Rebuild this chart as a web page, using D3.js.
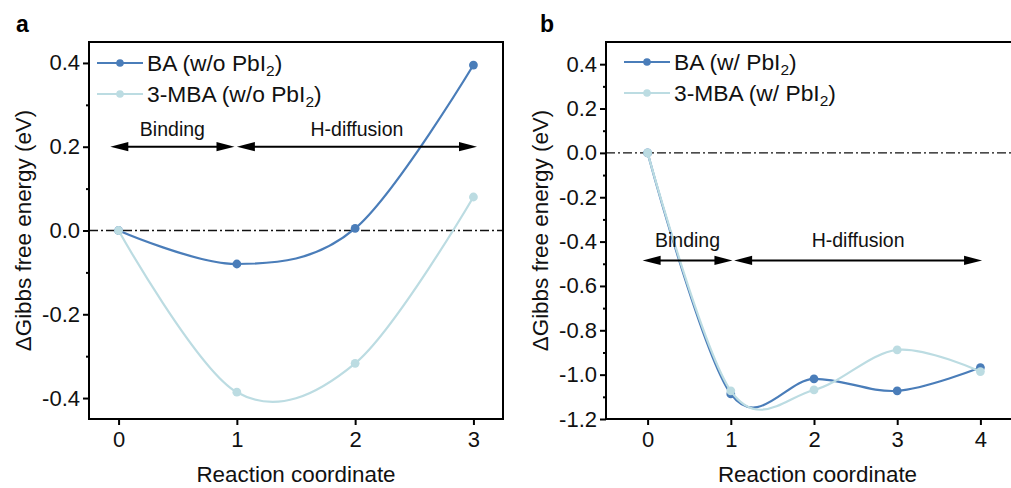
<!DOCTYPE html>
<html>
<head>
<meta charset="utf-8">
<script src="https://cdn.jsdelivr.net/npm/d3@7/dist/d3.min.js"></script>
<style>
  html, body { margin: 0; padding: 0; background: #fff; }
  svg { display: block; font-family: "Liberation Sans", Arial, Helvetica, sans-serif; }
</style>
</head>
<body>
<svg id="fig" width="1011" height="488"></svg>
<script>
// ---- data ----
// panel a: without PbI2
const coordsA = [0, 1, 2, 3];
const baNoPbI2 = [0.0, -0.08, 0.005, 0.395];
const mbaNoPbI2 = [0.0, -0.386, -0.317, 0.08];
const yTicksA = [-0.4, -0.2, 0.0, 0.2, 0.4];
const yMinorA = [-0.3, -0.1, 0.1, 0.3];

// panel b: with PbI2
const coordsB = [0, 1, 2, 3, 4];
const baWithPbI2 = [0.0, -1.087, -1.019, -1.073, -0.968];
const mbaWithPbI2 = [0.0, -1.073, -1.069, -0.888, -0.986];
const yTicksB = [-1.2, -1.0, -0.8, -0.6, -0.4, -0.2, 0.0, 0.2, 0.4];
const yMinorB = [-1.1, -0.9, -0.7, -0.5, -0.3, -0.1, 0.1, 0.3];

// legend names: [prefix, subscript, suffix]
const legendA = [["BA (w/o PbI", "2", ")"], ["3-MBA (w/o PbI", "2", ")"]];
const legendB = [["BA (w/ PbI", "2", ")"], ["3-MBA (w/ PbI", "2", ")"]];

// stage annotations: [label, from, to] in reaction-coordinate units
const stagesA = [["Binding", -0.07, 0.98], ["H-diffusion", 1.0, 3.03]];
const stagesB = [["Binding", -0.06, 1.02], ["H-diffusion", 1.04, 4.02]];

// ---- styling ----
const colBA = "#4a7db9";
const colMBA = "#bcdce2";
const fontTick = 22;
const fontTitle = 22.4;
const fontLegend = 22.8;
const fontNote = 19.5;

const fmt = d3.formatLocale({decimal: ".", thousands: ",", grouping: [3], currency: ["", ""], minus: "-"}).format(".1f");

const svg = d3.select("#fig");

function panel(opt) {
  const g = svg.append("g");
  const x = d3.scaleLinear().domain(opt.xDomain).range(opt.xRange);
  const y = d3.scaleLinear().domain(opt.yDomain).range([419, 42]);
  const [x0, x1] = opt.xRange;

  // zero reference line
  g.append("line")
    .attr("x1", x0).attr("x2", x1)
    .attr("y1", y(0)).attr("y2", y(0))
    .attr("stroke", "#111").attr("stroke-width", 1.4)
    .attr("stroke-dasharray", "9,3,2,3");

  // series curves and markers (smooth interpolating spline)
  const line = d3.line().x(d => x(d[0])).y(d => y(d[1])).curve(d3.curveCardinal.tension(0));
  opt.series.forEach(s => {
    const pts = opt.xs.map((v, i) => [v, s.values[i]]);
    g.append("path").datum(pts)
      .attr("d", line)
      .attr("fill", "none")
      .attr("stroke", s.color)
      .attr("stroke-width", 2.2);
    g.selectAll(null).data(pts).enter().append("circle")
      .attr("cx", d => x(d[0])).attr("cy", d => y(d[1]))
      .attr("r", 4.4).attr("fill", s.color);
  });

  // stage arrows
  const ay = y(opt.arrowY);
  const head = 18, half = 4.6;
  opt.stages.forEach(([label, a, b]) => {
    const xa = x(a), xb = x(b);
    g.append("line")
      .attr("x1", xa + head - 2).attr("x2", xb - head + 2)
      .attr("y1", ay).attr("y2", ay)
      .attr("stroke", "#000").attr("stroke-width", 2);
    g.append("path")
      .attr("d", `M${xa},${ay}L${xa + head},${ay - half}L${xa + head},${ay + half}Z`)
      .attr("fill", "#000");
    g.append("path")
      .attr("d", `M${xb},${ay}L${xb - head},${ay - half}L${xb - head},${ay + half}Z`)
      .attr("fill", "#000");
    g.append("text")
      .attr("x", (xa + xb) / 2).attr("y", ay - opt.noteGap)
      .attr("text-anchor", "middle")
      .attr("font-size", fontNote)
      .attr("fill", "#111")
      .text(label);
  });

  // axes
  const yAxis = d3.axisLeft(y).tickValues(opt.yTicks).tickFormat(fmt).tickSize(6).tickSizeOuter(0).tickPadding(3);
  const ga = g.append("g").attr("transform", `translate(${x0},0)`).call(yAxis);
  const yMinor = d3.axisLeft(y).tickValues(opt.yMinor).tickFormat("").tickSize(3).tickSizeOuter(0);
  const gm = g.append("g").attr("transform", `translate(${x0},0)`).call(yMinor);
  const xAxis = d3.axisBottom(x).tickValues(opt.xs).tickFormat(d3.format("d")).tickSize(6).tickSizeOuter(0).tickPadding(6);
  const gx = g.append("g").attr("transform", "translate(0,419)").call(xAxis);
  [ga, gm, gx].forEach(a => {
    a.select(".domain").remove();
    a.selectAll(".tick line").attr("stroke", "#000").attr("stroke-width", 2);
    a.selectAll(".tick text").attr("font-size", fontTick).attr("fill", "#111")
      .attr("font-family", "Liberation Sans, Arial, sans-serif");
  });

  // frame
  g.append("rect")
    .attr("x", x0).attr("y", 42)
    .attr("width", x1 - x0).attr("height", 419 - 42)
    .attr("fill", "none").attr("stroke", "#000").attr("stroke-width", 2);

  // axis titles
  g.append("text")
    .attr("x", (x0 + Math.min(x1, 1011)) / 2 + (opt.xTitleShift || 0)).attr("y", 482)
    .attr("text-anchor", "middle").attr("font-size", fontTitle).attr("fill", "#111")
    .text("Reaction coordinate");
  g.append("text")
    .attr("transform", `translate(${x0 - 58},${(42 + 419) / 2}) rotate(-90)`)
    .attr("text-anchor", "middle").attr("font-size", fontTitle).attr("fill", "#111")
    .text("\u0394Gibbs free energy (eV)");

  // legend
  opt.legend.forEach((parts, i) => {
    const ly = opt.legendY + i * 31;
    const s = opt.series[i];
    g.append("line")
      .attr("x1", opt.legendX).attr("x2", opt.legendX + 46)
      .attr("y1", ly).attr("y2", ly)
      .attr("stroke", s.color).attr("stroke-width", 2.2);
    g.append("circle").attr("cx", opt.legendX + 23).attr("cy", ly).attr("r", 3.8).attr("fill", s.color);
    const t = g.append("text")
      .attr("x", opt.legendX + 50).attr("y", ly + 8)
      .attr("font-size", fontLegend).attr("fill", "#111");
    t.append("tspan").text(parts[0]);
    t.append("tspan").attr("font-size", fontLegend * 0.68).attr("dy", 5).text(parts[1]);
    t.append("tspan").attr("dy", -5).text(parts[2]);
  });

  // panel letter
  g.append("text")
    .attr("x", opt.letterX).attr("y", 32)
    .attr("font-size", 23).attr("font-weight", "bold").attr("fill", "#000")
    .text(opt.letter);
}

panel({
  letter: "a", letterX: 16,
  xs: coordsA, xDomain: [-0.25, 3.25], xRange: [89, 503],
  yDomain: [-0.45, 0.45], yTicks: yTicksA, yMinor: yMinorA,
  series: [{values: baNoPbI2, color: colBA}, {values: mbaNoPbI2, color: colMBA}],
  stages: stagesA, arrowY: 0.2, noteGap: 11,
  legend: legendA, legendX: 97, legendY: 63
});

panel({
  letter: "b", letterX: 540,
  xs: coordsB, xDomain: [-0.5, 4.5], xRange: [606, 1022],
  yDomain: [-1.2, 0.5], yTicks: yTicksB, yMinor: yMinorB,
  series: [{values: baWithPbI2, color: colBA}, {values: mbaWithPbI2, color: colMBA}],
  stages: stagesB, arrowY: -0.485, noteGap: 13,
  legend: legendB, legendX: 624, legendY: 62,
  xTitleShift: 9
});
</script>
</body>
</html>
